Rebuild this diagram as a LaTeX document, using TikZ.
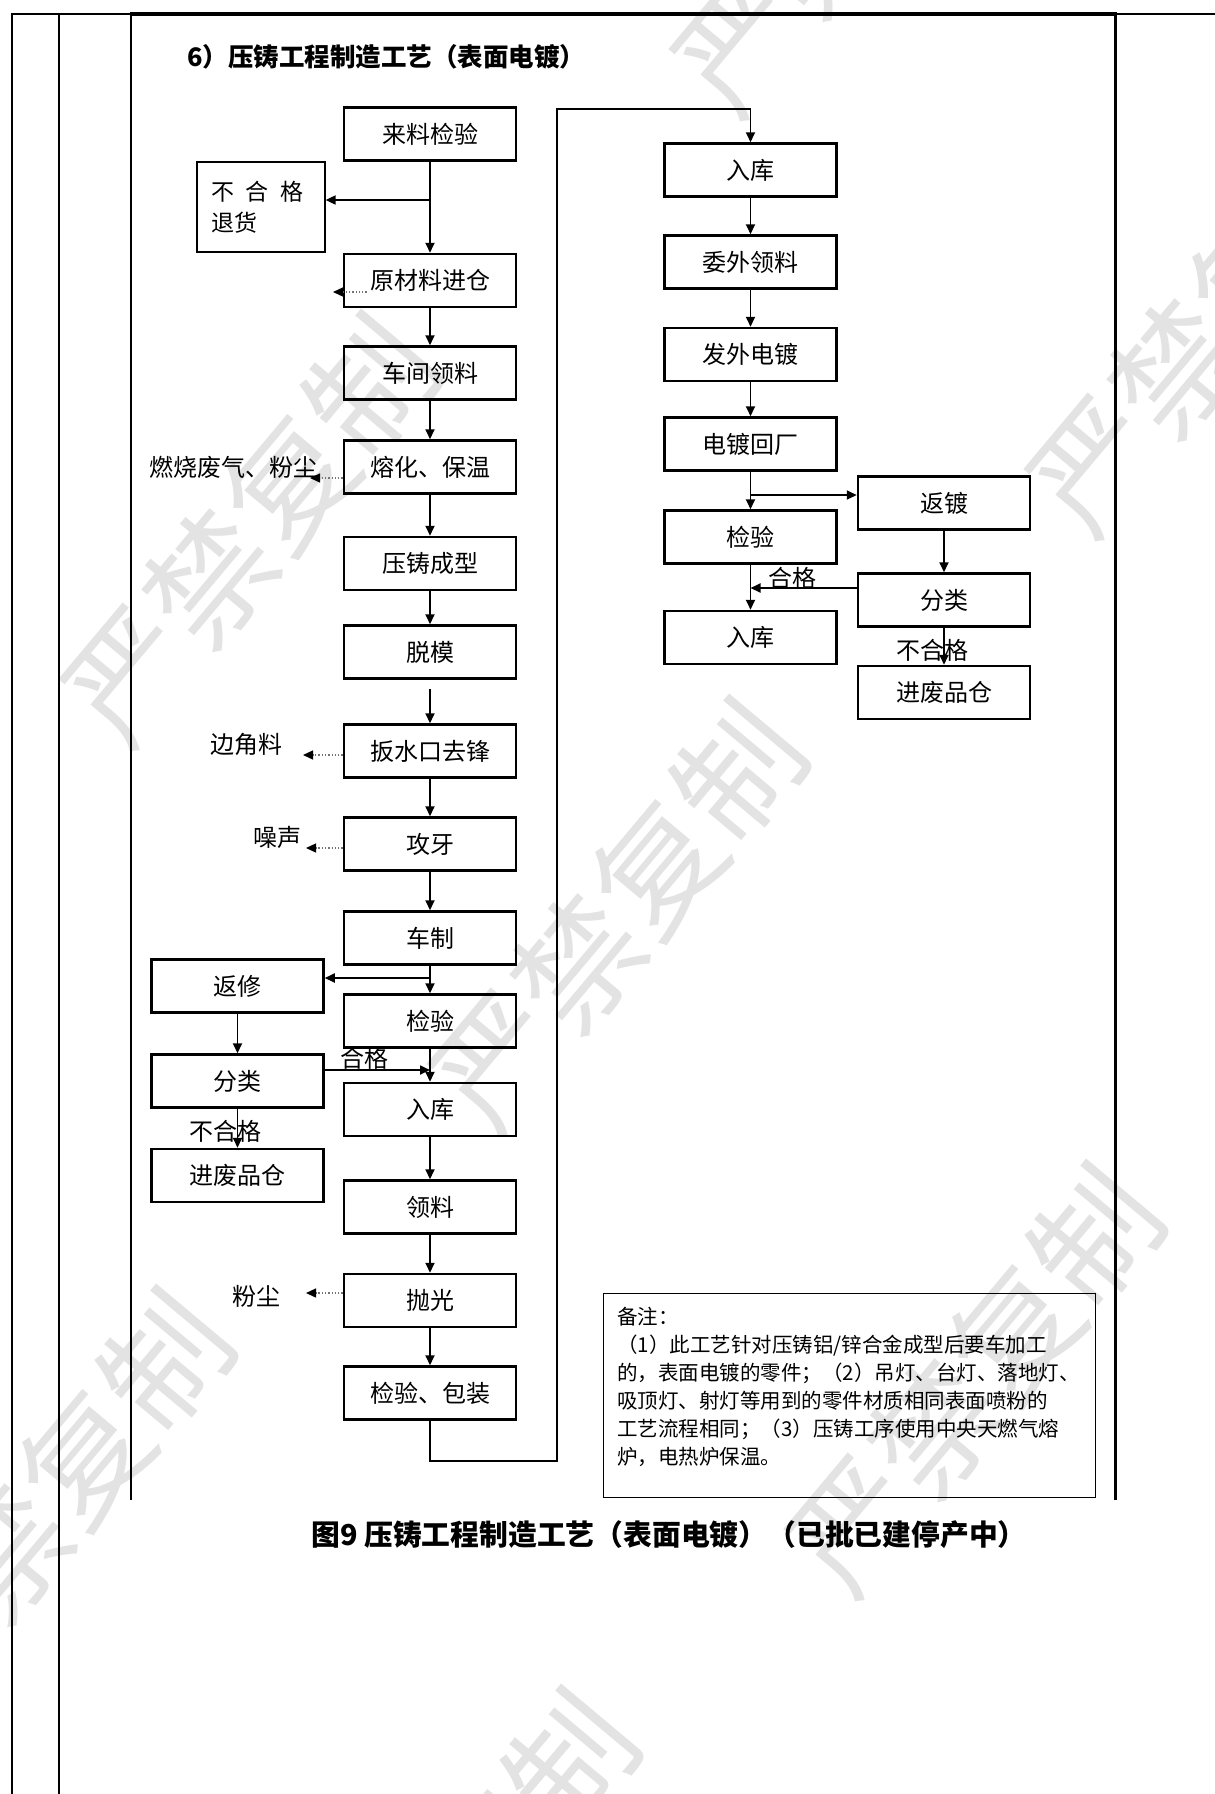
\documentclass[tikz,border=0pt]{standalone}
\usepackage{fontspec}
\setmainfont{Noto Sans CJK SC}
\usetikzlibrary{arrows.meta,calc}
\begin{document}
\begin{tikzpicture}[x=1pt,y=-1pt,
  box/.style={draw,line width=2.5pt,minimum width=172pt,minimum height=53pt,inner sep=0pt,font=\fontsize{24}{26}\selectfont},
  arr/.style={line width=1.8pt,-{Triangle[length=10pt,width=9pt]}},
  dotarr/.style={line width=1.3pt,dotted,draw=black!55,-{Triangle[length=10pt,width=9pt,color=black,fill=black]}},
  lbl/.style={inner sep=0pt,font=\fontsize{24}{26}\selectfont},
  wm/.style={text=black!11,font=\fontsize{125}{125}\selectfont,rotate=50,inner sep=0pt}
]
\useasboundingbox (0,0) rectangle (1215,1794);
\fill[white] (0,0) rectangle (1215,1794);

% watermark
\begin{scope}
\clip (0,0) rectangle (1215,1794);
\node[wm] (wm1) at (860,-100) {严禁复制};
\node[wm] (wm2) at (250,530) {严禁复制};
\node[wm] (wm3) at (618,915) {严禁复制};
\node[wm] (wm4) at (1215,320) {严禁复制};
\node[wm] (wm5) at (975,1380) {严禁复制};
\node[wm] (wm6) at (45,1505) {严禁复制};
\node[wm] (wm7) at (450,1905) {严禁复制};
\end{scope}

% page frame
\draw[line width=1.3pt] (12,1794) -- (12,14) -- (1215,14);
\draw[line width=1.3pt] (59,14) -- (59,1794);
\draw[line width=2pt] (131,14) -- (131,1500);
\draw[line width=3.5pt] (129.5,14) -- (1116.5,14);
\draw[line width=3pt] (1115,14) -- (1115,1500);

% title
\node[anchor=west,inner sep=0pt,font=\bfseries\fontsize{25.5}{28}\selectfont] (title) at (187,57) {6）压铸工程制造工艺（表面电镀）};

% left column
\node[box] (lai) at (430,134) {来料检验};
\node[draw,line width=1.2pt,minimum width=128pt,minimum height=90pt,text width=100pt,inner xsep=14pt,inner ysep=0pt,align=left,font=\fontsize{23}{31}\selectfont] (th) at (261,207) {不\hspace{12pt}合\hspace{12pt}格\\退货};
\node[box] (ycl) at (430,280.5) {原材料进仓};
\node[box] (cjll) at (430,373) {车间领料};
\node[box] (rh) at (430,467) {熔化、保温};
\node[box] (yzcx) at (430,563.5) {压铸成型};
\node[box] (tm) at (430,652) {脱模};
\node[box] (bsk) at (430,751) {扳水口去锋};
\node[box] (gy) at (430,844) {攻牙};
\node[box] (cz) at (430,938) {车制};
\node[box] (jy1) at (430,1021) {检验};
\node[box] (rk1) at (430,1109.5) {入库};
\node[box] (ll) at (430,1207) {领料};
\node[box] (pg) at (430,1300.5) {抛光};
\node[box] (jybz) at (430,1393) {检验、包装};

\node[box] (fx) at (237.5,986) {返修};
\node[box] (fl1) at (237.5,1081) {分类};
\node[box] (fp1) at (237.5,1175.5) {进废品仓};

% right column
\node[box] (rk2) at (750.5,170) {入库};
\node[box] (wwll) at (750.5,262) {委外领料};
\node[box] (fwdd) at (750.5,354.5) {发外电镀};
\node[box] (ddhc) at (750.5,444) {电镀回厂};
\node[box] (jy2) at (750.5,537) {检验};
\node[box] (rk3) at (750.5,637.5) {入库};
\node[box] (fd) at (944,503) {返镀};
\node[box] (fl2) at (944,600) {分类};
\node[box] (fp2) at (944,692.5) {进废品仓};

% side labels
\node[lbl] (fq) at (233,467) {燃烧废气、粉尘};
\node[lbl] (bjl) at (246,744) {边角料};
\node[lbl] (zs) at (277,837) {噪声};
\node[lbl] (fc) at (256,1296) {粉尘};
\node[lbl] (hg1) at (364,1058) {合格};
\node[lbl] (bhg1) at (225,1131) {不合格};
\node[lbl] (hg2) at (792,578) {合格};
\node[lbl] (bhg2) at (932,650) {不合格};

% coordinates
\coordinate (b1) at (430,200);
\coordinate (b2) at (430,978);
\coordinate (h1) at (430,1070);
\coordinate (b3) at (750.5,495);
\coordinate (h2) at (750.5,588);
\coordinate (lp1) at (557,1461);
\coordinate (lp2) at (557,109);
\coordinate (t1) at (333,292);
\coordinate (t2) at (310,478);
\coordinate (t3) at (303,755);
\coordinate (t4) at (306,848);
\coordinate (t5) at (306,1293);

% left trunk
\draw[arr] (lai) -- (ycl);
\draw[arr] (b1) -- (b1 -| th.east);
\draw[arr] (ycl) -- (cjll);
\draw[arr] (cjll) -- (rh);
\draw[arr] (rh) -- (yzcx);
\draw[arr] (yzcx) -- (tm);
\draw[arr] ([yshift=-9pt]tm.south) -- (bsk);
\draw[arr] (bsk) -- (gy);
\draw[arr] (gy) -- (cz);
\draw[arr] (cz) -- (jy1);
\draw[arr] (b2) -- (b2 -| fx.east);
\draw[arr] (jy1) -- (rk1);
\draw[arr] (h1 -| fl1.east) -- (h1);
\draw[arr] (fx) -- (fl1);
\draw[arr] (fl1) -- (fp1);
\draw[arr] (rk1) -- (ll);
\draw[arr] (ll) -- (pg);
\draw[arr] (pg) -- (jybz);

% loop to right column
\draw[arr] (jybz.south) |- (lp1) -- (lp2) -| (rk2.north);

% right trunk
\draw[arr] (rk2) -- (wwll);
\draw[arr] (wwll) -- (fwdd);
\draw[arr] (fwdd) -- (ddhc);
\draw[arr] (ddhc) -- (jy2);
\draw[arr] (b3) -- (b3 -| fd.west);
\draw[arr] (jy2) -- (rk3);
\draw[arr] (h2 -| fl2.west) -- (h2);
\draw[arr] (fd) -- (fl2);
\draw[arr] (fl2) -- (fp2);

% emissions (dotted)
\draw[dotarr] ([xshift=24pt,yshift=-11.5pt]ycl.west) -- (t1);
\draw[dotarr] ([yshift=-11pt]rh.west) -- (t2);
\draw[dotarr] ([yshift=-4pt]bsk.west) -- (t3);
\draw[dotarr] ([yshift=-4pt]gy.west) -- (t4);
\draw[dotarr] ([yshift=7.5pt]pg.west) -- (t5);

% note
\node[draw,line width=1.3pt,minimum width=492pt,minimum height=204pt,anchor=north west,inner sep=0pt] (note) at (603,1293) {};
\node[anchor=north west,align=left,inner sep=0pt,font=\fontsize{20.5}{28}\selectfont] (notetext) at (617,1307) {备注：\\（1）此工艺针对压铸铝/锌合金成型后要车加工\\的，表面电镀的零件；（2）吊灯、台灯、落地灯、\\吸顶灯、射灯等用到的零件材质相同表面喷粉的\\工艺流程相同；（3）压铸工序使用中央天燃气熔\\炉，电热炉保温。};

% caption
\node[inner sep=0pt,font=\bfseries\fontsize{28.8}{32}\selectfont] (cap) at (669,1535) {图9 压铸工程制造工艺（表面电镀）（已批已建停产中）};
\end{tikzpicture}
\end{document}
